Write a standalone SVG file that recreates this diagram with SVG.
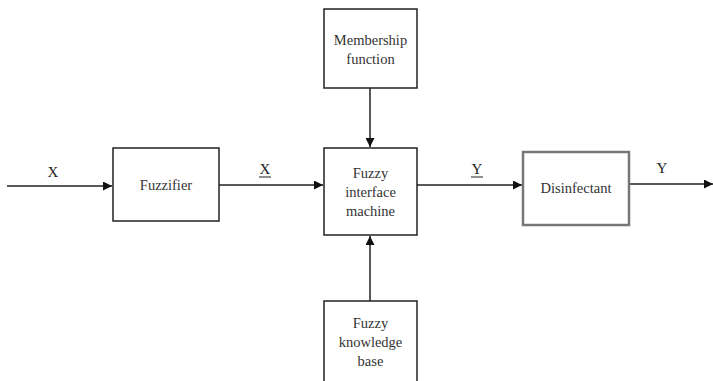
<svg xmlns="http://www.w3.org/2000/svg" width="713" height="381" viewBox="0 0 713 381">
<style>
.box{fill:#fff;stroke:#222;stroke-width:1.5}
.gbox{fill:#fff;stroke:#777;stroke-width:2.5}
.t{font-size:14.5px;fill:#333;text-anchor:middle}
.lbl{font-size:15px;fill:#222;text-anchor:middle}
.ln{stroke:#222;stroke-width:1.5;fill:none}
</style>
<defs>
<marker id="ah" viewBox="0 0 10 10" refX="10" refY="5" markerWidth="9" markerHeight="9" markerUnits="userSpaceOnUse" orient="auto">
<path d="M0,0 L10,5 L0,10 z" fill="#111"/>
</marker>
</defs>
<rect width="713" height="381" fill="#fff"/>
<g font-family="'Liberation Serif', 'DejaVu Serif', serif">
<g id="connectors">
<line class="ln" x1="7" y1="186" x2="112" y2="186" marker-end="url(#ah)"/>
<line class="ln" x1="219" y1="185" x2="323" y2="185" marker-end="url(#ah)"/>
<line class="ln" x1="417" y1="185" x2="522" y2="185" marker-end="url(#ah)"/>
<line class="ln" x1="629" y1="184" x2="713" y2="184" marker-end="url(#ah)"/>
<line class="ln" x1="370" y1="88" x2="370" y2="147" marker-end="url(#ah)"/>
<line class="ln" x1="370" y1="301" x2="370" y2="236" marker-end="url(#ah)"/>
<text class="lbl" x="53" y="177">X</text>
<text class="lbl" x="265" y="174">X</text>
<line x1="259" y1="177" x2="271" y2="177" stroke="#222" stroke-width="1"/>
<text class="lbl" x="477" y="174">Y</text>
<line x1="471" y1="177" x2="483" y2="177" stroke="#222" stroke-width="1"/>
<text class="lbl" x="662" y="173">Y</text>
</g>
<g id="fuzzifier">
<rect class="box" x="113" y="148" width="106" height="73"/>
<text class="t" x="166" y="190">Fuzzifier</text>
</g>
<g id="membership">
<rect class="box" x="324" y="9" width="93" height="79"/>
<text class="t" x="370.5" y="45">Membership</text>
<text class="t" x="370.5" y="64">function</text>
</g>
<g id="fim">
<rect class="box" x="324" y="148" width="93" height="87"/>
<text class="t" x="370.5" y="178">Fuzzy</text>
<text class="t" x="370.5" y="197">interface</text>
<text class="t" x="370.5" y="216">machine</text>
</g>
<g id="kb">
<rect class="box" x="324" y="301" width="93" height="85"/>
<text class="t" x="370.5" y="328">Fuzzy</text>
<text class="t" x="370.5" y="347">knowledge</text>
<text class="t" x="370.5" y="366">base</text>
</g>
<g id="disinfectant">
<rect class="gbox" x="523" y="152" width="106" height="73"/>
<text class="t" x="576" y="193">Disinfectant</text>
</g>
</g>
</svg>
